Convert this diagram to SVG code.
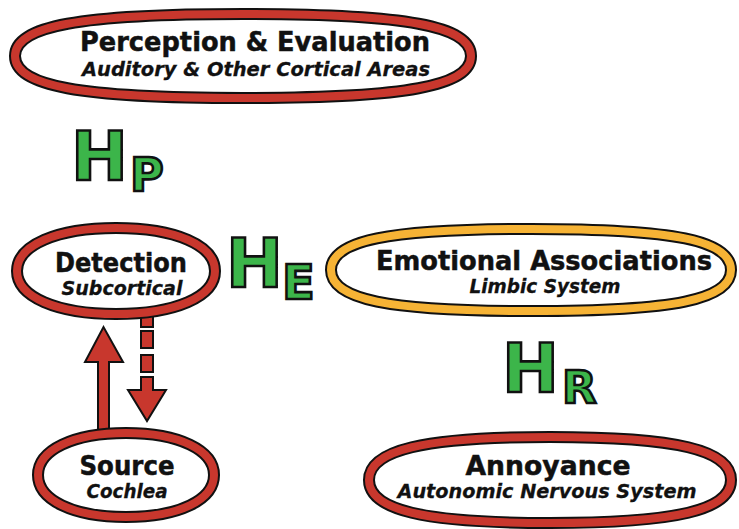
<svg xmlns="http://www.w3.org/2000/svg" width="739" height="529" viewBox="0 0 739 529">
<style>
.ring-b{fill:#fff;stroke:#111;stroke-width:12}
.ring-r{fill:none;stroke:#c8372d;stroke-width:8}
.ring-y{fill:none;stroke:#f6b335;stroke-width:8}
.t{font-family:"DejaVu Sans","Liberation Sans",sans-serif;font-weight:bold;font-size:27px;fill:#111;stroke:#111;stroke-width:0.5;text-anchor:middle}
.s{font-family:"DejaVu Sans","Liberation Sans",sans-serif;font-weight:bold;font-style:italic;font-size:20px;fill:#111;stroke:#111;stroke-width:0.3;text-anchor:middle}
.h{font-family:"DejaVu Sans","Liberation Sans",sans-serif;font-weight:bold;fill:#3cb54a;stroke:#111;stroke-width:2.6}
.arr{fill:#c8372d;stroke:#111;stroke-width:2;stroke-linejoin:miter}
</style>
<rect width="739" height="529" fill="#fff"/>
<g id="connectors">
<polygon class="arr" points="98,432 98,362 85,362 103.5,327 123,362 109,362 109,432"/>
<rect class="arr" x="141" y="316" width="12" height="11"/>
<rect class="arr" x="141" y="331" width="12" height="17"/>
<rect class="arr" x="141" y="355" width="12" height="17"/>
<polygon class="arr" points="141,377 153,377 153,390 166,390 147,421 128,390 141,390"/>
</g>
<g id="perception">
<path class="ring-b" d="M15,56 C15,26 79,14 243,14 C407,14 471,26 471,56 C471,86 407,98 243,98 C79,98 15,86 15,56Z"/>
<path class="ring-r" d="M15,56 C15,26 79,14 243,14 C407,14 471,26 471,56 C471,86 407,98 243,98 C79,98 15,86 15,56Z"/>
<text class="t" x="255" y="51" textLength="350" lengthAdjust="spacingAndGlyphs">Perception &amp; Evaluation</text>
<text class="s" x="256" y="76" textLength="348" lengthAdjust="spacingAndGlyphs">Auditory &amp; Other Cortical Areas</text>
</g>
<g id="detection">
<path class="ring-b" d="M17,271 C17,245 57,228 116,228 C175,228 215,245 215,271 C215,297 175,314 116,314 C57,314 17,297 17,271Z"/>
<path class="ring-r" d="M17,271 C17,245 57,228 116,228 C175,228 215,245 215,271 C215,297 175,314 116,314 C57,314 17,297 17,271Z"/>
<text class="t" x="121" y="272" textLength="132" lengthAdjust="spacingAndGlyphs">Detection</text>
<text class="s" x="122" y="295" textLength="121" lengthAdjust="spacingAndGlyphs">Subcortical</text>
</g>
<g id="emotional">
<path class="ring-b" d="M331,270 C331,240.5 387,229 531,229 C675,229 731,240.5 731,270 C731,299.5 675,311 531,311 C387,311 331,299.5 331,270Z"/>
<path class="ring-y" d="M331,270 C331,240.5 387,229 531,229 C675,229 731,240.5 731,270 C731,299.5 675,311 531,311 C387,311 331,299.5 331,270Z"/>
<text class="t" x="544" y="270" textLength="336" lengthAdjust="spacingAndGlyphs">Emotional Associations</text>
<text class="s" x="545" y="293" textLength="151" lengthAdjust="spacingAndGlyphs">Limbic System</text>
</g>
<g id="source">
<path class="ring-b" d="M38,475 C38,450 73,433 126,433 C179,433 214,450 214,475 C214,500 179,517 126,517 C73,517 38,500 38,475Z"/>
<path class="ring-r" d="M38,475 C38,450 73,433 126,433 C179,433 214,450 214,475 C214,500 179,517 126,517 C73,517 38,500 38,475Z"/>
<text class="t" x="127" y="475" textLength="95" lengthAdjust="spacingAndGlyphs">Source</text>
<text class="s" x="127" y="498" textLength="81" lengthAdjust="spacingAndGlyphs">Cochlea</text>
</g>
<g id="annoyance">
<path class="ring-b" d="M369,480 C369,450 423,437 550,437 C677,437 731,450 731,480 C731,510 677,523 550,523 C423,523 369,510 369,480Z"/>
<path class="ring-r" d="M369,480 C369,450 423,437 550,437 C677,437 731,450 731,480 C731,510 677,523 550,523 C423,523 369,510 369,480Z"/>
<text class="t" x="548" y="475" textLength="165" lengthAdjust="spacingAndGlyphs">Annoyance</text>
<text class="s" x="547" y="498" textLength="299" lengthAdjust="spacingAndGlyphs">Autonomic Nervous System</text>
</g>
<g id="hp">
<text class="h" x="71" y="180" font-size="68">H</text>
<text class="h" x="130" y="191" font-size="46">P</text>
</g>
<g id="he">
<text class="h" x="226" y="287" font-size="68">H</text>
<text class="h" x="282" y="299" font-size="48">E</text>
</g>
<g id="hr">
<text class="h" x="502" y="392" font-size="68">H</text>
<text class="h" x="562" y="403" font-size="45">R</text>
</g>
</svg>
